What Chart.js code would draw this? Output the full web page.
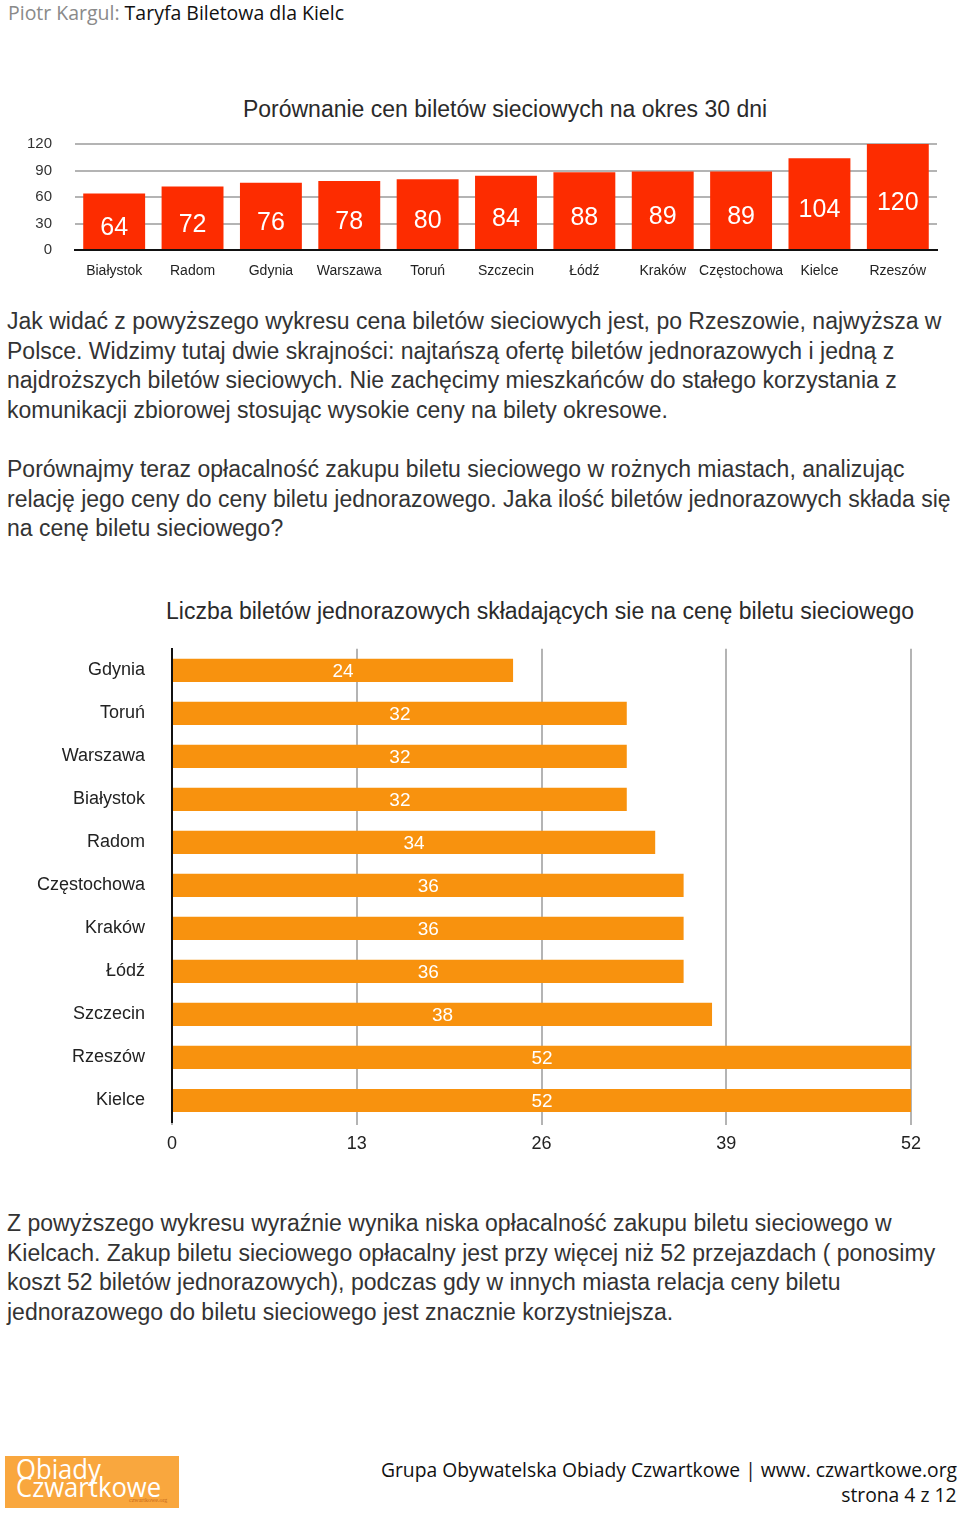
<!DOCTYPE html>
<html lang="pl">
<head>
<meta charset="utf-8">
<script src="https://cdn.jsdelivr.net/npm/chart.js@4/dist/chart.umd.min.js"></script>
<style>
  body{margin:0;width:960px;height:1514px;position:relative;background:#fff;font-family:'Liberation Sans',Arial,sans-serif;color:#2a2a2a;overflow:hidden}
  .abs{position:absolute;white-space:nowrap}
  .hdr{left:8px;top:-2px;font-family:'Open Sans',sans-serif;font-size:20.5px;color:#111;transform:scaleX(0.95);transform-origin:0 0}
  .hdr .g{color:#8a8a8a}
  .ttl{font-size:23px;color:#2a2a2a;transform:translateX(-50%)}
  .p{left:7px;font-size:23px;line-height:29.6px;color:#333}
  .box{position:absolute}
  .logo{left:5px;top:1456px;width:174px;height:52px;background:#f9a73e;position:absolute;overflow:hidden}
  .logo .t{position:absolute;left:11px;color:#fff;font-family:'Open Sans',sans-serif;font-size:27px;line-height:22px;transform:scaleX(0.95);transform-origin:0 0}
  .logo .s{position:absolute;left:124px;top:41px;color:#c8691a;font-family:'Liberation Serif',serif;font-size:6px}
  .ft{right:3px;font-family:'Open Sans',sans-serif;font-size:20px;color:#111;transform:scaleX(0.965);transform-origin:100% 0}
</style>
</head>
<body>
<div class="abs hdr"><span class="g">Piotr Kargul:</span> Taryfa Biletowa dla Kielc</div>

<div class="abs ttl" style="left:505px;top:96px">Porównanie cen biletów sieciowych na okres 30 dni</div>
<div class="box" style="left:0;top:112px;width:960px;height:178px"><canvas id="c-price"></canvas></div>

<div class="abs p" style="top:307px">Jak widać z powyższego wykresu cena biletów sieciowych jest, po Rzeszowie, najwyższa w<br>Polsce. Widzimy tutaj dwie skrajności: najtańszą ofertę biletów jednorazowych i jedną z<br>najdroższych biletów sieciowych. Nie zachęcimy mieszkańców do stałego korzystania z<br>komunikacji zbiorowej stosując wysokie ceny na bilety okresowe.</div>

<div class="abs p" style="top:455px">Porównajmy teraz opłacalność zakupu biletu sieciowego w rożnych miastach, analizując<br>relację jego ceny do ceny biletu jednorazowego. Jaka ilość biletów jednorazowych składa się<br>na cenę biletu sieciowego?</div>

<div class="abs ttl" style="left:540px;top:598px">Liczba biletów jednorazowych składających sie na cenę biletu sieciowego</div>
<div class="box" style="left:0;top:619px;width:960px;height:541px"><canvas id="c-ratio"></canvas></div>

<div class="abs p" style="top:1209px">Z powyższego wykresu wyraźnie wynika niska opłacalność zakupu biletu sieciowego w<br>Kielcach. Zakup biletu sieciowego opłacalny jest przy więcej niż 52 przejazdach ( ponosimy<br>koszt 52 biletów jednorazowych), podczas gdy w innych miasta relacja ceny biletu<br>jednorazowego do biletu sieciowego jest znacznie korzystniejsza.</div>

<div class="logo"><div class="t" style="top:2px">Obiady</div><div class="t" style="top:20px">Czwartkowe</div><div class="s">czwartkowe.org</div></div>
<div class="abs ft" style="top:1456px">Grupa Obywatelska Obiady Czwartkowe | www. czwartkowe.org</div>
<div class="abs ft" style="top:1481px">strona 4 z 12</div>

<script>
// DANE
const cities1=['Białystok','Radom','Gdynia','Warszawa','Toruń','Szczecin','Łódź','Kraków','Częstochowa','Kielce','Rzeszów'];
const prices=[64,72,76,78,80,84,88,89,89,104,120];
const yTicks1=[0,30,60,90,120];

const cities2=['Gdynia','Toruń','Warszawa','Białystok','Radom','Częstochowa','Kraków','Łódź','Szczecin','Rzeszów','Kielce'];
const ratios=[24,32,32,32,34,36,36,36,38,52,52];
const xTicks2=[0,13,26,39,52];

Chart.defaults.font.family="'Liberation Sans', Arial, sans-serif";
Chart.defaults.color='#222';

// etykiety wartości w środku słupka
const inLabels={
  id:'inLabels',
  afterDatasetsDraw(chart,args,opts){
    const ctx=chart.ctx;
    const horiz=chart.options.indexAxis==='y';
    chart.getDatasetMeta(0).data.forEach((el,i)=>{
      const v=chart.data.datasets[0].data[i];
      ctx.save();
      ctx.fillStyle='#fff';
      ctx.font=`${opts.size}px 'Liberation Sans', Arial, sans-serif`;
      ctx.textAlign='center';
      ctx.textBaseline='middle';
      if(horiz) ctx.fillText(v,(el.x+el.base)/2,el.y+1);
      else ctx.fillText(v,el.x,(el.y+el.base)/2+opts.dy);
      ctx.restore();
    });
  }
};

function renderPrice(){
  new Chart(document.getElementById('c-price'),{
    type:'bar',
    data:{labels:cities1,datasets:[{data:prices,backgroundColor:'#fd2c00',barPercentage:0.79,categoryPercentage:1}]},
    plugins:[inLabels],
    options:{
      responsive:true,maintainAspectRatio:false,animation:false,
      layout:{padding:{top:12,right:23,left:0,bottom:0}},
      plugins:{legend:{display:false},tooltip:{enabled:false},inLabels:{size:25,dy:7}},
      scales:{
        x:{
          grid:{display:false},
          border:{display:true,color:'#111',width:2},
          ticks:{font:{size:14},color:'#222',padding:5,maxRotation:0,autoSkip:false},
          afterFit:s=>{s.height=40;}
        },
        y:{
          min:0,max:120,
          afterBuildTicks:s=>{s.ticks=yTicks1.map(v=>({value:v}));},
          grid:{color:'#b4b4b4',lineWidth:2,drawTicks:false},
          border:{display:false},
          ticks:{font:{size:15},color:'#333',padding:23},
          afterFit:s=>{s.width=75;}
        }
      }
    }
  });
}

function renderRatio(){
  new Chart(document.getElementById('c-ratio'),{
    type:'bar',
    data:{labels:cities2,datasets:[{data:ratios,backgroundColor:'#f8920e',barPercentage:0.54,categoryPercentage:1}]},
    plugins:[inLabels],
    options:{
      indexAxis:'y',
      responsive:true,maintainAspectRatio:false,animation:false,
      layout:{padding:{top:10,right:49,left:0,bottom:0}},
      plugins:{legend:{display:false},tooltip:{enabled:false},inLabels:{size:19,dy:0}},
      scales:{
        x:{
          min:0,max:52,
          afterBuildTicks:s=>{s.ticks=xTicks2.map(v=>({value:v}));},
          grid:{color:'#b4b4b4',lineWidth:2,drawTicks:true,tickLength:3},
          border:{display:false},
          ticks:{font:{size:18},color:'#222',padding:8},
          afterFit:s=>{s.height=38;}
        },
        y:{
          grid:{display:false},
          border:{display:true,color:'#111',width:2},
          ticks:{font:{size:18},color:'#222',padding:19,autoSkip:false},
          afterFit:s=>{s.width=172;}
        }
      }
    }
  });
}

renderPrice();
renderRatio();
</script>
</body>
</html>
